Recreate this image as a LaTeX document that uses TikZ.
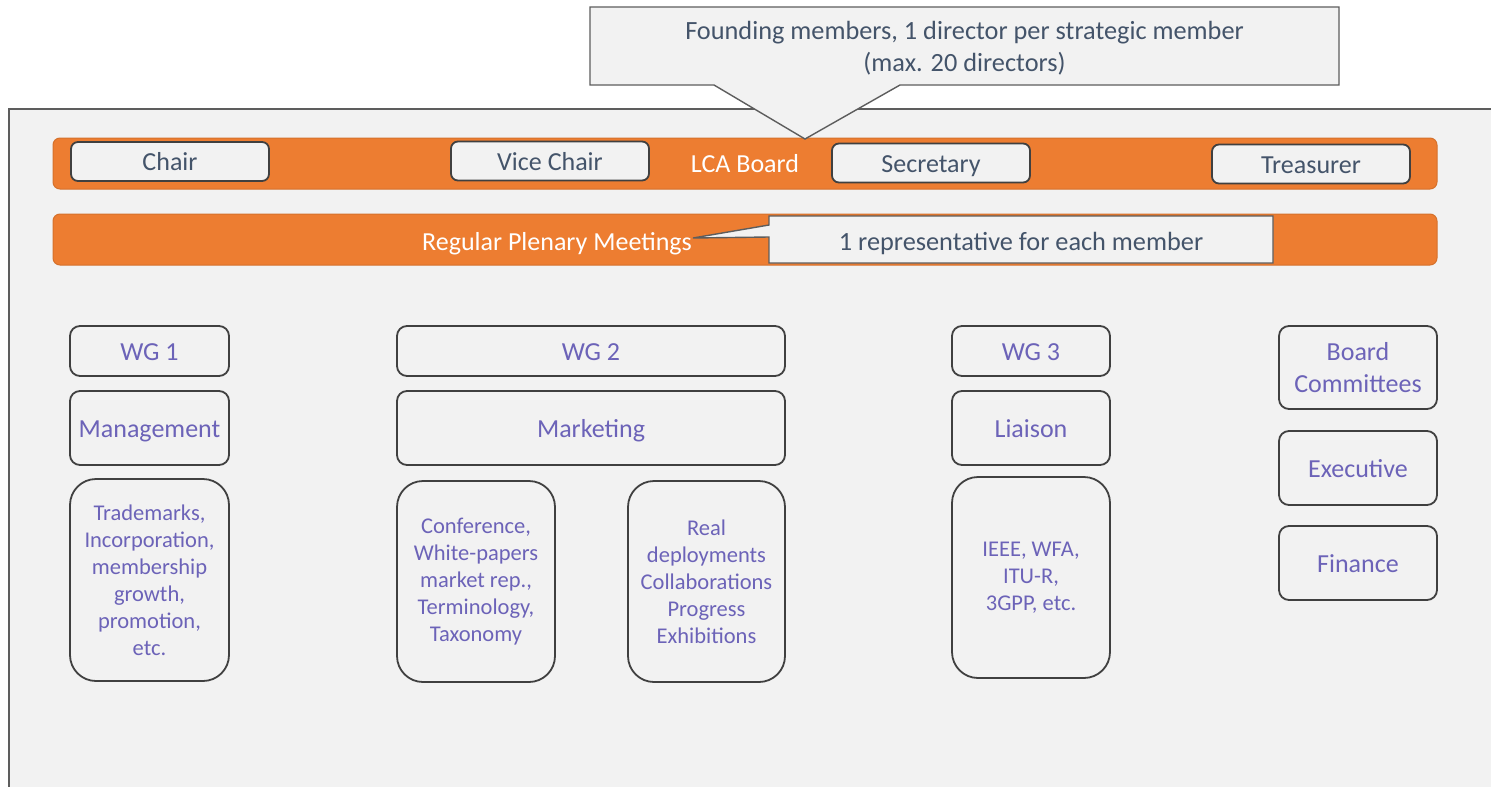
\documentclass[tikz,border=0pt]{standalone}
\usepackage{fontspec}
\setmainfont{Carlito}
\usepackage{tikz}
\usetikzlibrary{positioning}
\definecolor{lcaorange}{HTML}{ED7D31}
\definecolor{panel}{HTML}{F2F2F2}
\definecolor{edgegray}{HTML}{404040}
\definecolor{wgtext}{HTML}{6C63B8}
\definecolor{roletext}{HTML}{44546A}
\tikzset{
  oneline/.style={text height=18pt, text depth=0pt},
  bar/.style={fill=lcaorange, draw=lcaorange!90!black, line width=1pt, rounded corners=7pt, minimum width=1384, minimum height=51, inner sep=0pt},
  bartext/.style={oneline, text=white, font=\fontsize{26}{31}\selectfont, inner sep=0pt},
  role/.style={oneline, draw=edgegray, fill=panel, line width=1.8pt, rounded corners=7pt, minimum width=198, minimum height=39, text=roletext, font=\fontsize{26}{31}\selectfont, inner sep=0pt},
  callout/.style={draw=edgegray!85, fill=panel, line width=1.4pt},
  note/.style={text=roletext, font=\fontsize{26.3}{32}\selectfont, align=center, inner sep=0pt},
  wgbox/.style={draw=edgegray, fill=panel, line width=1.8pt, rounded corners=10pt, text=wgtext, font=\fontsize{26}{32}\selectfont, align=center, inner sep=0pt},
  topicbox/.style={wgbox, rounded corners=26pt, font=\fontsize{22.5}{27}\selectfont}
}
\begin{document}
\begin{tikzpicture}[x=1pt, y=-1pt]
\useasboundingbox[fill=white] (0,0) rectangle (1491,787);
\fill[panel] (9,109) rectangle (1491,787);
\draw[edgegray!85, line width=1.4pt] (1491,109) -- (9,109) -- (9,787);

\node[bar] (board) at (745,163.5) {};
\node[bartext] (boardlabel) at (745,163) {LCA Board};
\node[role] (chair) at (170,161.5) {Chair};
\node[role] (vicechair) at (550,161) {Vice Chair};
\node[role] (secretary) at (931,163) {Secretary};
\node[role] (treasurer) at (1311,164) {Treasurer};

\node[bar] (plenary) at (745,239.5) {};
\node[bartext] (plenarylabel) at (557,241) {Regular Plenary Meetings};
\draw[callout] (769,216) -- (1273,216) -- (1273,263) -- (769,263) -- (769,237) -- (693,238) -- (769,225) -- cycle;
\node[note, oneline] (repnote) at (1021,241) {1 representative for each member};

\draw[callout] (590,7) -- (1339,7) -- (1339,85) -- (900,85) -- (805,139) -- (714,85) -- (590,85) -- cycle;
\node[note] (founders) at (964.5,48) {Founding members, 1 director per strategic member\\(max. 20 directors)};

\node[wgbox, oneline, minimum width=159, minimum height=50] (wg1) at (149.5,351) {WG 1};
\node[wgbox, oneline, minimum width=388, minimum height=50] (wg2) at (591,351) {WG 2};
\node[wgbox, oneline, minimum width=158, minimum height=50] (wg3) at (1031,351) {WG 3};
\node[wgbox, minimum width=158, minimum height=83] (boardcom) at (1358,367.5) {Board\\Committees};

\node[wgbox, oneline, minimum width=159, minimum height=74] (management) at (149.5,428) {Management};
\node[wgbox, oneline, minimum width=388, minimum height=74] (marketing) at (591,428) {Marketing};
\node[wgbox, oneline, minimum width=158, minimum height=74] (liaison) at (1031,428) {Liaison};
\node[wgbox, oneline, minimum width=158, minimum height=74] (executive) at (1358,468) {Executive};
\node[wgbox, oneline, minimum width=158, minimum height=74] (finance) at (1358,563) {Finance};

\node[topicbox, minimum width=159, minimum height=202] (mgmttopics) at (149.5,580) {Trademarks,\\Incorporation,\\membership\\growth,\\promotion,\\etc.};
\node[topicbox, minimum width=158, minimum height=201] (conftopics) at (476,581.5) {Conference,\\White-papers\\market rep.,\\Terminology,\\Taxonomy};
\node[topicbox, minimum width=157, minimum height=201] (realtopics) at (706.5,581.5) {Real\\deployments\\Collaborations\\Progress\\Exhibitions};
\node[topicbox, minimum width=158, minimum height=201] (liaisontopics) at (1031,577.5) {IEEE, WFA,\\ITU-R,\\3GPP, etc.};
\end{tikzpicture}
\end{document}
